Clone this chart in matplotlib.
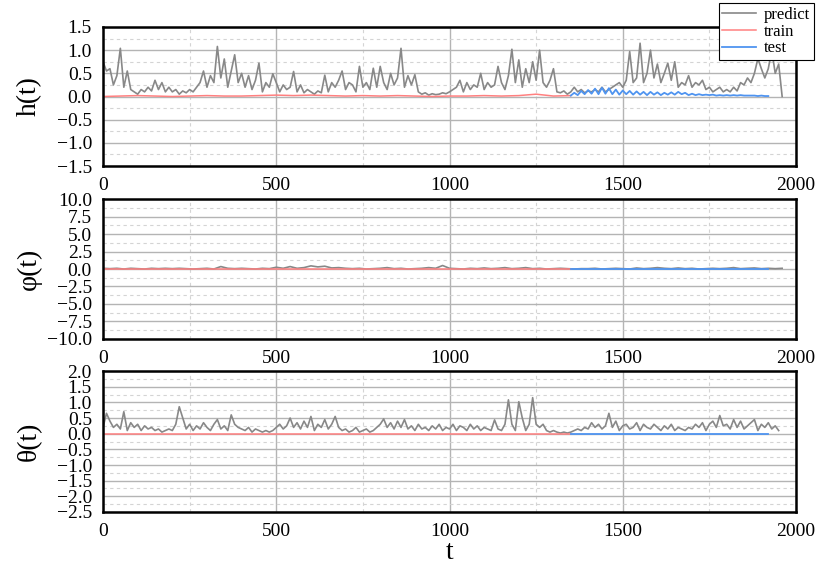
import numpy as np
import matplotlib
matplotlib.use('Agg')
import matplotlib.pyplot as plt
from matplotlib.ticker import MultipleLocator


# h(t) predict, sampled every 10 steps (0..1960)
h_pred = [0.75, 0.55, 0.6, 0.25, 0.45, 1.04, 0.2, 0.55, 0.15, 0.1,
          0.05, 0.15, 0.1, 0.2, 0.12, 0.35, 0.15, 0.3, 0.1, 0.2,
          0.1, 0.15, 0.05, 0.12, 0.08, 0.15, 0.1, 0.2, 0.3, 0.55,
          0.2, 0.45, 0.3, 1.08, 0.4, 0.81, 0.2, 0.55, 0.9, 0.3,
          0.5, 0.2, 0.45, 0.15, 0.35, 0.72, 0.1, 0.3, 0.2, 0.49,
          0.3, 0.1, 0.25, 0.15, 0.2, 0.54, 0.1, 0.25, 0.08, 0.15,
          0.1, 0.05, 0.12, 0.08, 0.46, 0.1, 0.3, 0.2, 0.35, 0.55,
          0.15, 0.3, 0.25, 0.1, 0.65, 0.2, 0.3, 0.15, 0.61, 0.2,
          0.65, 0.3, 0.15, 0.5, 0.25, 0.4, 1.04, 0.2, 0.45, 0.25,
          0.47, 0.1, 0.05, 0.08, 0.03, 0.06, 0.04, 0.05, 0.08, 0.06,
          0.1, 0.15, 0.2, 0.35, 0.1, 0.3, 0.15, 0.25, 0.2, 0.5,
          0.15, 0.3, 0.2, 0.25, 0.65, 0.3, 0.15, 0.45, 1.02, 0.3,
          0.79, 0.2, 0.6, 0.3, 0.75, 0.35, 1.0, 0.3, 0.2, 0.35,
          0.6, 0.1, 0.08, 0.12, 0.05, 0.1, 0.2, 0.1, 0.15, 0.08,
          0.12, 0.1, 0.15, 0.1, 0.2, 0.1, 0.15, 0.2, 0.25, 0.3,
          0.2, 0.35, 0.97, 0.3, 0.4, 1.15, 0.3, 0.5, 1.0, 0.4,
          0.7, 0.3, 0.5, 0.72, 0.35, 0.75, 0.2, 0.3, 0.25, 0.45,
          0.2, 0.3, 0.25, 0.35, 0.15, 0.2, 0.1, 0.15, 0.2, 0.1,
          0.15, 0.1, 0.2, 0.12, 0.3, 0.25, 0.4, 0.3, 0.5, 0.82,
          0.6, 0.4, 0.6, 1.0, 0.5, 0.7, 0.0]

# h(t) train, every 50 steps (0..1350)
h_train = [0.0, 0.01, 0.02, 0.01, 0.0, 0.01, 0.02, 0.01, 0.01, 0.02,
           0.03, 0.02, 0.03, 0.02, 0.01, 0.02, 0.01, 0.02, 0.01, 0.0,
           0.01, 0.01, 0.02, 0.01, 0.02, 0.05, 0.01, 0.02]

# h(t) test, every 10 steps (1350..1920)
h_test = [0.02, 0.08, 0.03, 0.12, 0.05, 0.14, 0.06, 0.17, 0.05, 0.19,
          0.06, 0.18, 0.05, 0.15, 0.04, 0.13, 0.05, 0.12, 0.04, 0.11,
          0.04, 0.1, 0.03, 0.1, 0.04, 0.09, 0.03, 0.08, 0.04, 0.09,
          0.04, 0.1, 0.05, 0.08, 0.03, 0.06, 0.03, 0.05, 0.03, 0.04,
          0.03, 0.04, 0.02, 0.03, 0.02, 0.03, 0.02, 0.03, 0.02, 0.03,
          0.02, 0.02, 0.02, 0.02, 0.01, 0.02, 0.01, 0.01]

# phi(t) predict, every 20 steps (0..1960)
phi_pred = [0.1, 0.05, 0.1, 0.0, 0.1, 0.05, 0.0, 0.1, 0.05, 0.1,
            0.05, 0.1, 0.05, 0.0, 0.05, 0.1, 0.0, 0.35, 0.1, 0.05,
            0.1, 0.05, 0.0, 0.1, 0.05, 0.25, 0.1, 0.35, 0.1, 0.2,
            0.45, 0.3, 0.4, 0.15, 0.2, 0.1, 0.05, 0.1, 0.0, 0.05,
            0.1, 0.2, 0.05, 0.1, 0.0, 0.05, 0.1, 0.2, 0.1, 0.5,
            0.1, 0.05, 0.0, 0.1, 0.05, 0.15, 0.05, 0.1, 0.2, 0.05,
            0.1, 0.2, 0.05, 0.1, 0.0, 0.05, 0.1, 0.05, 0.0, 0.05,
            0.05, 0.1, 0.0, 0.05, 0.1, 0.05, 0.0, 0.15, 0.05, 0.1,
            0.2, 0.1, 0.05, 0.15, 0.05, 0.1, 0.0, 0.05, 0.1, 0.05,
            0.1, 0.2, 0.05, 0.1, 0.15, 0.05, 0.1, 0.05, 0.1]
phi_train = [0.0, 0.0]
phi_test = [0.0, 0.0]

# theta(t) predict, every 10 steps (0..1950)
theta_pred = [0.2, 0.65, 0.4, 0.2, 0.3, 0.15, 0.7, 0.1, 0.35, 0.2,
              0.3, 0.1, 0.25, 0.15, 0.2, 0.1, 0.15, 0.05, 0.1, 0.15,
              0.1, 0.3, 0.86, 0.5, 0.15, 0.3, 0.1, 0.25, 0.15, 0.35,
              0.2, 0.1, 0.3, 0.45, 0.15, 0.25, 0.1, 0.6, 0.3, 0.2,
              0.15, 0.1, 0.2, 0.05, 0.15, 0.1, 0.05, 0.1, 0.05, 0.1,
              0.2, 0.3, 0.15, 0.25, 0.5, 0.2, 0.35, 0.15, 0.4, 0.2,
              0.55, 0.1, 0.3, 0.2, 0.45, 0.15, 0.3, 0.55, 0.2, 0.1,
              0.15, 0.05, 0.1, 0.2, 0.05, 0.1, 0.15, 0.05, 0.1, 0.2,
              0.3, 0.47, 0.2, 0.35, 0.15, 0.4, 0.2, 0.45, 0.15, 0.25,
              0.1, 0.3, 0.15, 0.2, 0.1, 0.25, 0.15, 0.3, 0.1, 0.2,
              0.15, 0.3, 0.1, 0.25, 0.2, 0.1, 0.3, 0.15, 0.25, 0.1,
              0.2, 0.15, 0.1, 0.44, 0.15, 0.1, 0.3, 1.08, 0.3, 0.1,
              1.02, 0.5, 0.1, 0.3, 1.15, 0.3, 0.2, 0.3, 0.1, 0.05,
              0.1, 0.05, 0.02, 0.05, 0.02, 0.05, 0.1, 0.15, 0.1, 0.2,
              0.15, 0.35, 0.2, 0.3, 0.15, 0.25, 0.65, 0.2, 0.4, 0.1,
              0.25, 0.3, 0.15, 0.2, 0.35, 0.1, 0.3, 0.2, 0.15, 0.3,
              0.2, 0.1, 0.25, 0.15, 0.3, 0.1, 0.2, 0.15, 0.1, 0.2,
              0.15, 0.3, 0.2, 0.35, 0.1, 0.3, 0.4, 0.2, 0.58, 0.25,
              0.3, 0.15, 0.45, 0.2, 0.4, 0.15, 0.25, 0.35, 0.45, 0.1,
              0.3, 0.2, 0.35, 0.15, 0.25, 0.1]
theta_train = [0.0, 0.0]
theta_test = [0.0, 0.0]

t_h_pred = np.arange(len(h_pred)) * 10
t_h_train = np.arange(len(h_train)) * 50
t_h_test = 1350 + np.arange(len(h_test)) * 10
t_phi_pred = np.arange(len(phi_pred)) * 20
t_theta_pred = np.arange(len(theta_pred)) * 10
t_train_span = [0, 1350]
t_test_span = [1350, 1920]

panels = [
    ('h(t)', (t_h_pred, h_pred), (t_h_train, h_train), (t_h_test, h_test),
     (-1.5, 1.5), 0.5),
    ('φ(t)', (t_phi_pred, phi_pred), (t_train_span, phi_train), (t_test_span, phi_test),
     (-10, 10), 2.5),
    ('θ(t)', (t_theta_pred, theta_pred), (t_train_span, theta_train), (t_test_span, theta_test),
     (-2.5, 2.0), 0.5),
]

plt.rcParams['font.family'] = ['Liberation Serif', 'DejaVu Serif']
plt.rcParams['axes.unicode_minus'] = True

fig = plt.figure(figsize=(8.17, 5.68), dpi=100)
rects = [[0.1261, 0.7077, 0.8482, 0.2448],
         [0.1261, 0.4032, 0.8482, 0.2464],
         [0.1261, 0.0986, 0.8482, 0.2482]]

c_pred = '#888888'
c_train = '#ff8080'
c_test = '#4f94f0'

for rect, (label, pred, train, test, ylim, step) in zip(rects, panels):
    ax = fig.add_axes(rect)
    lp, = ax.plot(pred[0], pred[1], color=c_pred, lw=1.2, label='predict')
    lt, = ax.plot(train[0], train[1], color=c_train, lw=1.1, label='train')
    ls, = ax.plot(test[0], test[1], color=c_test, lw=1.3, label='test')
    ax.set_xlim(0, 2000)
    ax.set_ylim(*ylim)
    ax.xaxis.set_major_locator(MultipleLocator(500))
    ax.xaxis.set_minor_locator(MultipleLocator(250))
    ax.yaxis.set_major_locator(MultipleLocator(step))
    ax.yaxis.set_minor_locator(MultipleLocator(step / 2))
    ax.grid(which='major', color='#b4b4b4', lw=1.0, ls='-')
    ax.grid(which='minor', color='#d4d4d4', lw=0.8, ls=(0, (3, 3)))
    ax.set_axisbelow(True)
    ax.tick_params(which='both', length=0, labelsize=14)
    ax.tick_params(axis='y', pad=8)
    ax.tick_params(axis='x', pad=8)
    for s in ax.spines.values():
        s.set_linewidth(1.8)
        s.set_color('black')
    ax.set_ylabel(label, fontsize=20)
    ax.yaxis.set_label_coords(-0.088, 0.5)

ax.set_xlabel('t', fontsize=20, labelpad=0)

leg = fig.legend(handles=[lp, lt, ls], loc='upper right',
                 bbox_to_anchor=(0.998, 0.997), fancybox=False,
                 prop={'family': 'Liberation Serif', 'size': 12},
                 borderpad=0.2, labelspacing=0.05, handlelength=2.0,
                 handletextpad=0.5, borderaxespad=0.1, framealpha=1)
leg.get_frame().set_edgecolor('black')
leg.get_frame().set_linewidth(0.8)

fig.savefig('out.png', dpi=100)
